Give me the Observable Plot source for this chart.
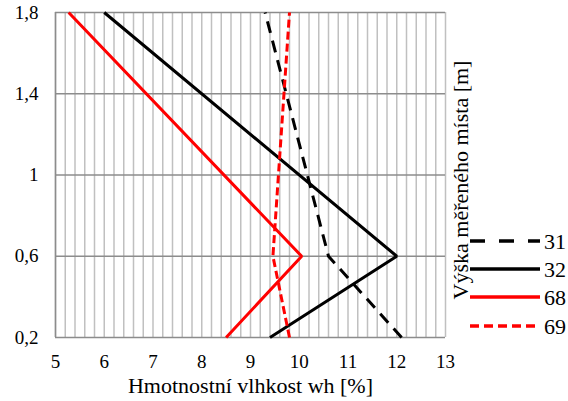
<!DOCTYPE html>
<html><head><meta charset="utf-8">
<script src="https://cdn.jsdelivr.net/npm/d3@7"></script>
<script src="https://cdn.jsdelivr.net/npm/@observablehq/plot@0.6"></script>
<style>
html,body{margin:0;padding:0;background:#fff;}
#wrap{position:relative;width:568px;height:401px;}
#legend{position:absolute;left:0;top:0;}
#wrap svg, #wrap svg text{font-family:"Liberation Serif","Times New Roman",Tinos,"DejaVu Serif",serif !important;}
</style>
</head><body>
<div id="wrap"></div>
<script>
const heights = [0.2, 0.6, 1.8];
const seriesNames = ["31", "32", "68", "69"];
const s31 = [12.1, 10.6, 9.3];
const s32 = [9.4, 12.0, 6.0];
const s68 = [8.5, 10.05, 5.27];
const s69 = [9.8, 9.46, 9.8];
const xTicks = [5, 6, 7, 8, 9, 10, 11, 12, 13];
const yTicks = [0.2, 0.6, 1, 1.4, 1.8];
const xMinor = d3.range(0, 41).map(i => 5 + i * 0.2);

const styles = {
  "31": {stroke: "#000", dash: "12,8"},
  "32": {stroke: "#000", dash: null},
  "68": {stroke: "#ff0000", dash: null},
  "69": {stroke: "#ff0000", dash: "8,4"}
};
const values = {"31": s31, "32": s32, "68": s68, "69": s69};
const rows = name => heights.map((h, i) => ({h, v: values[name][i]}));

const plot = Plot.plot({
  width: 568, height: 401,
  marginLeft: 55, marginRight: 123, marginTop: 12, marginBottom: 64,
  style: {fontSize: "19px", background: "#fff", color: "#000"},
  x: {domain: [5, 13], ticks: xTicks, tickFormat: d => String(d), label: null},
  y: {domain: [0.2, 1.8], ticks: yTicks, tickFormat: d => String(d).replace(".", ","), label: null},
  marks: [
    Plot.ruleX(xMinor, {stroke: "#c0c0c0", strokeWidth: 1.5}),
    Plot.ruleY(yTicks, {stroke: "#8c8c8c", strokeWidth: 1.5}),
    Plot.ruleX([5], {stroke: "#8c8c8c", strokeWidth: 1.5}),
    Plot.axisX({ticks: xTicks, tickSize: 0, tickPadding: 17, fontSize: 19, tickFormat: d => String(d)}),
    Plot.axisY({ticks: yTicks, tickSize: 0, tickPadding: 17, fontSize: 19, tickFormat: d => String(d).replace(".", ",")}),
    ...seriesNames.map(n => Plot.line(rows(n), {
      x: "v", y: "h", stroke: styles[n].stroke, strokeWidth: 3,
      strokeDasharray: styles[n].dash, strokeLinecap: "butt", strokeLinejoin: "miter"
    })),
    Plot.text(["Hmotnostní vlhkost wh [%]"], {frameAnchor: "bottom", dy: 55, fontSize: 22}),
    Plot.text(["Výška měřeného místa [m]"], {frameAnchor: "right", textAnchor: "middle", rotate: -90, dx: 15, dy: 5, fontSize: 22})
  ]
});
document.getElementById("wrap").appendChild(plot);

// legend
const ns = "http://www.w3.org/2000/svg";
const lg = document.createElementNS(ns, "svg");
lg.setAttribute("id", "legend");
lg.setAttribute("width", 568); lg.setAttribute("height", 401);
const legY = [241, 269, 297, 326];
seriesNames.forEach((n, i) => {
  const l = document.createElementNS(ns, "line");
  l.setAttribute("x1", 470); l.setAttribute("x2", 540);
  l.setAttribute("y1", legY[i]); l.setAttribute("y2", legY[i]);
  l.setAttribute("stroke", styles[n].stroke); l.setAttribute("stroke-width", 3.5);
  if (styles[n].dash) l.setAttribute("stroke-dasharray", n === "31" ? "15,14" : "9,5");
  lg.appendChild(l);
  const t = document.createElementNS(ns, "text");
  t.setAttribute("x", 544); t.setAttribute("y", legY[i] + 8);
  t.setAttribute("font-size", 22);
  t.textContent = n;
  lg.appendChild(t);
});
document.getElementById("wrap").appendChild(lg);
</script>
</body></html>
